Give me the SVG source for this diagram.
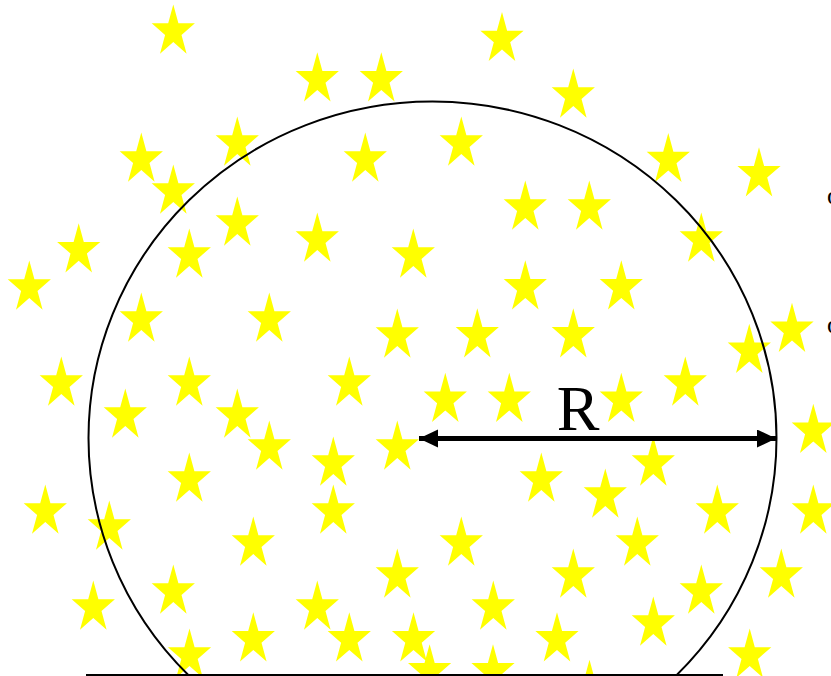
<svg xmlns="http://www.w3.org/2000/svg" xmlns:xlink="http://www.w3.org/1999/xlink" width="831" height="676" viewBox="0 0 831 676">
<style>
.star{fill:#ffff00;stroke:none}
.outline{fill:none;stroke:#000;stroke-width:2}
.arrow{stroke:#000;stroke-width:5;fill:none}
.lbl{font-family:"Liberation Serif","Times New Roman",serif;fill:#000}
</style>
<defs>
<path id="star" class="star" d="M0,-27.2 L5.1,-8.4 L21.6,-8.4 L8.2,3.2 L13.3,22 L0,10.4 L-13.3,22 L-8.2,3.2 L-21.6,-8.4 L-5.1,-8.4 Z"/>
<marker id="ah" markerUnits="userSpaceOnUse" markerWidth="22" markerHeight="20" refX="19" refY="9" orient="auto-start-reverse">
<path d="M0,0 L19,9 L0,18 Z" fill="#000"/>
</marker>
</defs>
<rect width="831" height="676" fill="#fff"/>
<g id="stars">
<use href="#star" x="173.3" y="31.7"/>
<use href="#star" x="317.3" y="79.5"/>
<use href="#star" x="381.3" y="79.5"/>
<use href="#star" x="237.3" y="143.7"/>
<use href="#star" x="141.3" y="159.7"/>
<use href="#star" x="365.3" y="159.7"/>
<use href="#star" x="173.3" y="191.7"/>
<use href="#star" x="237.3" y="223.7"/>
<use href="#star" x="189.3" y="255.7"/>
<use href="#star" x="317.3" y="239.7"/>
<use href="#star" x="413.3" y="255.7"/>
<use href="#star" x="78.7" y="250.4"/>
<use href="#star" x="29.3" y="287.7"/>
<use href="#star" x="141.3" y="319.7"/>
<use href="#star" x="269.3" y="319.7"/>
<use href="#star" x="397.3" y="335.7"/>
<use href="#star" x="502" y="39.1"/>
<use href="#star" x="573.3" y="95.7"/>
<use href="#star" x="461.3" y="143.7"/>
<use href="#star" x="668.3" y="160.1"/>
<use href="#star" x="759" y="174.4"/>
<use href="#star" x="525.3" y="207.7"/>
<use href="#star" x="589.3" y="207.7"/>
<use href="#star" x="701.3" y="239.7"/>
<use href="#star" x="525.3" y="287.5"/>
<use href="#star" x="621.3" y="287.5"/>
<use href="#star" x="477.3" y="335.5"/>
<use href="#star" x="573.3" y="335.5"/>
<use href="#star" x="792" y="330"/>
<use href="#star" x="749.3" y="351"/>
<use href="#star" x="61.3" y="383.7"/>
<use href="#star" x="189.3" y="383.7"/>
<use href="#star" x="349.3" y="383.7"/>
<use href="#star" x="125.3" y="415.7"/>
<use href="#star" x="237.3" y="415.7"/>
<use href="#star" x="269.3" y="447.7"/>
<use href="#star" x="333.3" y="463.7"/>
<use href="#star" x="397.3" y="447.7"/>
<use href="#star" x="189.3" y="479.7"/>
<use href="#star" x="45.3" y="511.7"/>
<use href="#star" x="109.3" y="527.7"/>
<use href="#star" x="333.3" y="511.7"/>
<use href="#star" x="253.3" y="543.7"/>
<use href="#star" x="397.3" y="575.7"/>
<use href="#star" x="173.3" y="591.7"/>
<use href="#star" x="93.3" y="607.7"/>
<use href="#star" x="317.3" y="607.7"/>
<use href="#star" x="445.3" y="400"/>
<use href="#star" x="509.3" y="400"/>
<use href="#star" x="621.3" y="400"/>
<use href="#star" x="685.3" y="383.7"/>
<use href="#star" x="813.3" y="431"/>
<use href="#star" x="653.3" y="463.7"/>
<use href="#star" x="541.3" y="479.7"/>
<use href="#star" x="605.3" y="495.7"/>
<use href="#star" x="717.3" y="511.7"/>
<use href="#star" x="813.3" y="511.7"/>
<use href="#star" x="461.3" y="543.7"/>
<use href="#star" x="637.3" y="543.7"/>
<use href="#star" x="573.3" y="575.7"/>
<use href="#star" x="781.3" y="575.7"/>
<use href="#star" x="701.3" y="591.7"/>
<use href="#star" x="493.3" y="607.7"/>
<use href="#star" x="653.3" y="623.7"/>
<use href="#star" x="189.5" y="655.7"/>
<use href="#star" x="253.3" y="639.5"/>
<use href="#star" x="349.3" y="639.5"/>
<use href="#star" x="413.5" y="639.5"/>
<use href="#star" x="557" y="639.5"/>
<use href="#star" x="429.6" y="671.5"/>
<use href="#star" x="493" y="671.5"/>
<use href="#star" x="589.5" y="687"/>
<use href="#star" x="749.7" y="655.7"/>
</g>
<g id="sphere">
<ellipse class="outline" cx="432.5" cy="438" rx="344" ry="336.5"/>
</g>
<g id="ground">
<line x1="86" y1="675" x2="723" y2="675" stroke="#000" stroke-width="2"/>
</g>
<g id="connectors">
<line class="arrow" x1="419" y1="438.5" x2="776" y2="438.5" marker-start="url(#ah)" marker-end="url(#ah)"/>
</g>
<g id="labels">
<text class="lbl" x="578" y="430" font-size="64" text-anchor="middle">R</text>
<text class="lbl" x="827" y="204" font-size="26">o</text>
<text class="lbl" x="827" y="333" font-size="26">o</text>
</g>
</svg>
